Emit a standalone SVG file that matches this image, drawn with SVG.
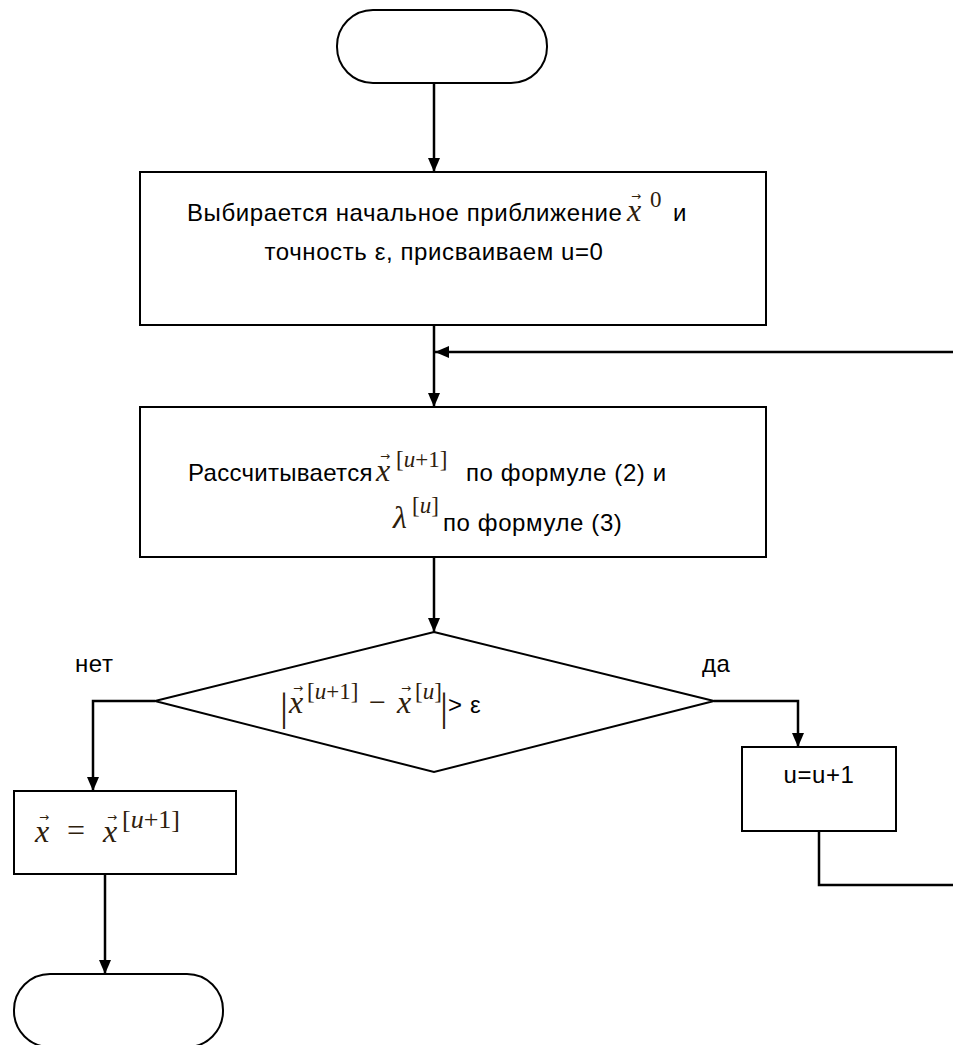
<svg xmlns="http://www.w3.org/2000/svg" width="953" height="1045" viewBox="0 0 953 1045">
<defs>
<marker id="ah" viewBox="0 0 14 12" refX="14" refY="6" markerWidth="14" markerHeight="12" markerUnits="userSpaceOnUse" orient="auto">
<path d="M0,0 L14,6 L0,12 z" fill="#000"/>
</marker>
<style>
.sh{fill:#fff;stroke:#000;stroke-width:2}
.ln{fill:none;stroke:#000;stroke-width:2.5}
.t{font-family:"Liberation Sans",Arial,sans-serif;font-size:24px;letter-spacing:0.6px;fill:#000}
.m{font-family:"Liberation Serif","DejaVu Serif",serif;font-style:italic;font-size:32px;fill:#2e200c}
.s{font-family:"Liberation Serif","DejaVu Serif",serif;font-size:23px;fill:#2e200c}
.si{font-style:italic}
.v{font-family:"DejaVu Sans",sans-serif;font-size:12px;fill:#2e200c}
</style>
</defs>
<g id="connectors">
<path class="ln" d="M434,83 V172" marker-end="url(#ah)"/>
<path class="ln" d="M434,325 V407" marker-end="url(#ah)"/>
<path class="ln" d="M953,352 H435" marker-end="url(#ah)"/>
<path class="ln" d="M434,557 V632" marker-end="url(#ah)"/>
<path class="ln" d="M155,701 H93 V791" marker-end="url(#ah)"/>
<path class="ln" d="M714,701 H798 V747" marker-end="url(#ah)"/>
<path class="ln" d="M105,874 V974" marker-end="url(#ah)"/>
<path class="ln" d="M819,831 V885 H953"/>
<text class="t" x="75" y="672">нет</text>
<text class="t" x="702" y="672">да</text>
</g>
<g id="start">
<rect class="sh" x="337" y="10" width="210" height="73" rx="36" ry="36"/>
</g>
<g id="init">
<rect class="sh" x="140" y="172" width="626" height="153"/>
<text class="t" x="187" y="221">Выбирается начальное приближение</text>
<text class="m" x="627" y="221">x</text>
<text class="v" x="631" y="200">→</text>
<text class="s" x="650" y="207">0</text>
<text class="t" x="673" y="221">и</text>
<text class="t" x="434" y="260" text-anchor="middle">точность ε, присваиваем u=0</text>
</g>
<g id="compute">
<rect class="sh" x="140" y="407" width="626" height="150"/>
<text class="t" x="188" y="481" style="letter-spacing:0.3px">Рассчитывается</text>
<text class="m" x="376" y="481">x</text>
<text class="v" x="380" y="460">→</text>
<text class="s" x="396" y="467">[<tspan class="si">u</tspan>+1]</text>
<text class="t" x="466" y="481">по формуле (2) и</text>
<text class="m" x="393" y="528">λ</text>
<text class="s" x="412" y="513">[<tspan class="si">u</tspan>]</text>
<text class="t" x="443" y="531">по формуле (3)</text>
</g>
<g id="check">
<polygon class="sh" points="434,632 714,701 434,772 155,701"/>
<text class="s" x="280" y="720" style="font-size:40px">|</text>
<text class="m" x="289" y="713">x</text>
<text class="v" x="293" y="692">→</text>
<text class="s" x="307" y="699">[<tspan class="si">u</tspan>+1]</text>
<text class="s" x="369" y="712" style="font-size:30px">−</text>
<text class="m" x="397" y="713">x</text>
<text class="v" x="401" y="692">→</text>
<text class="s" x="415" y="699">[<tspan class="si">u</tspan>]</text>
<text class="s" x="440" y="720" style="font-size:40px">|</text>
<text class="t" x="448" y="713">&gt; ε</text>
</g>
<g id="assign">
<rect class="sh" x="14" y="791" width="222" height="83"/>
<text class="m" x="35" y="842">x</text>
<text class="v" x="39" y="821">→</text>
<text class="s" x="67" y="841" style="font-size:32px">=</text>
<text class="m" x="103" y="842">x</text>
<text class="v" x="107" y="821">→</text>
<text class="s" x="122" y="828" style="font-size:26px">[<tspan class="si">u</tspan>+1]</text>
</g>
<g id="increment">
<rect class="sh" x="742" y="747" width="154" height="84"/>
<text class="t" x="819" y="783" text-anchor="middle">u=u+1</text>
</g>
<g id="end">
<rect class="sh" x="14" y="974" width="209" height="73" rx="36" ry="36"/>
</g>
</svg>
